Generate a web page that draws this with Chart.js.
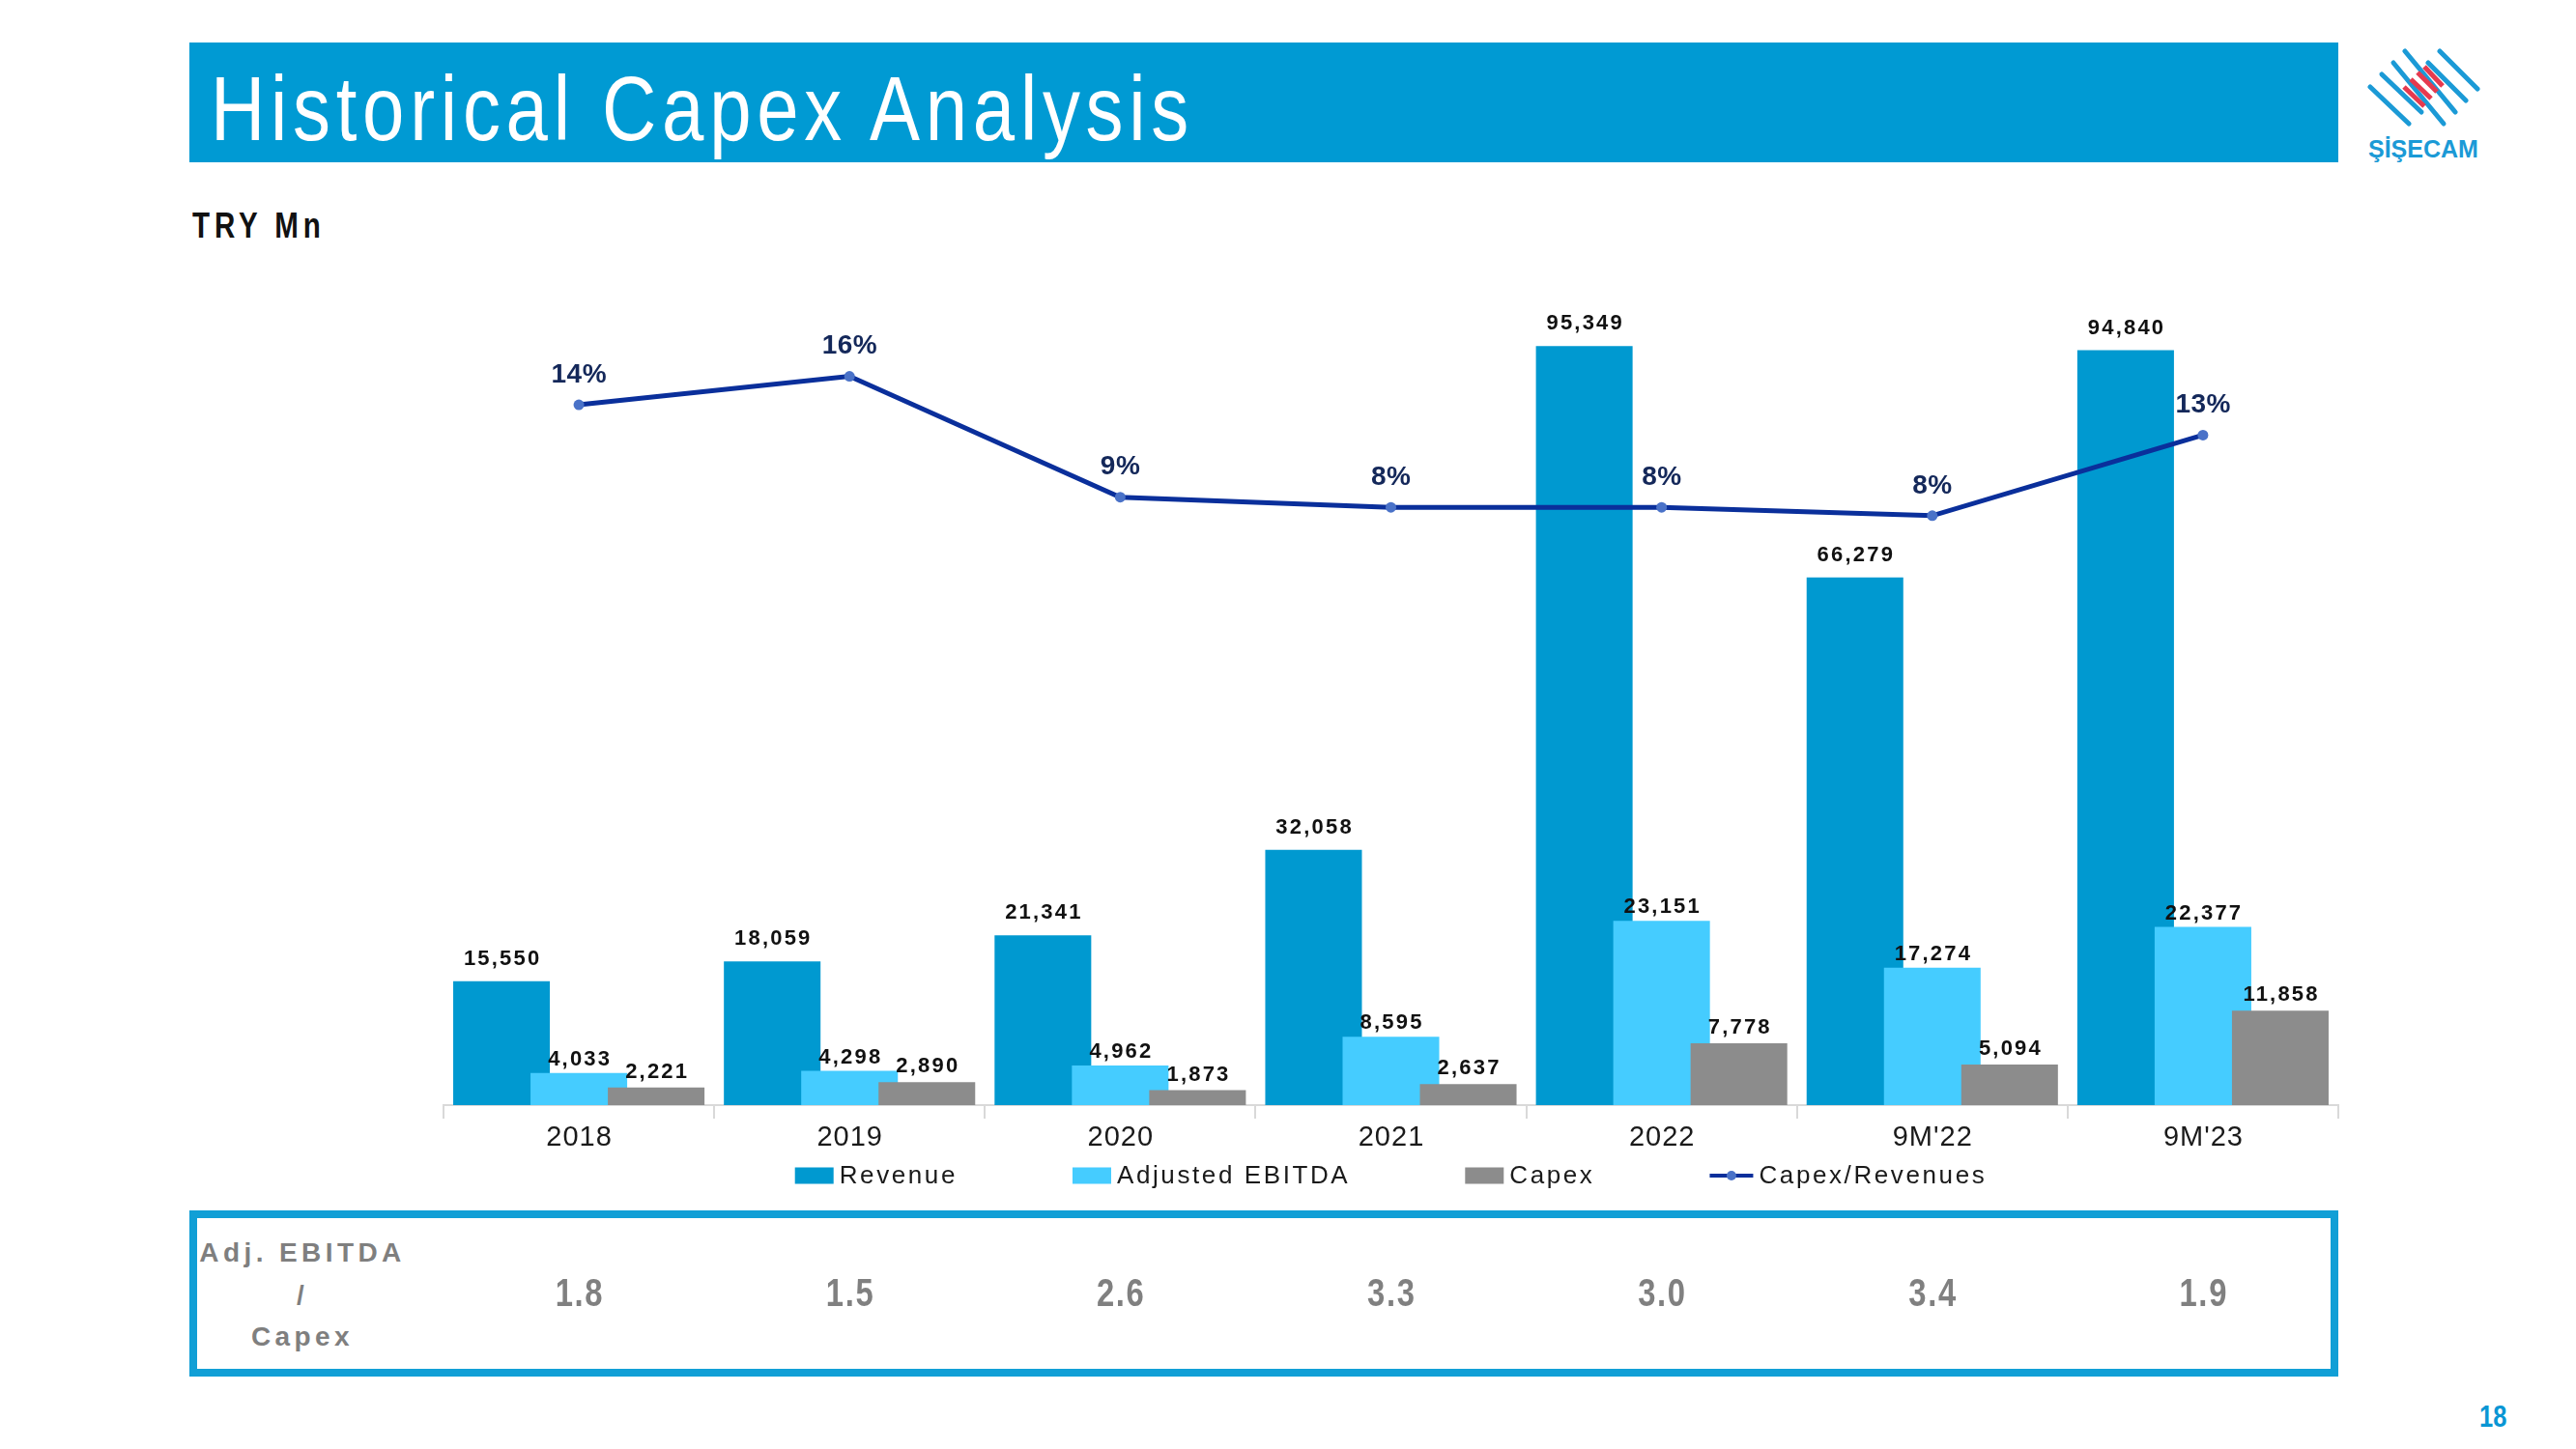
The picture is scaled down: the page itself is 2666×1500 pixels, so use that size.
<!DOCTYPE html>
<html>
<head>
<meta charset="utf-8">
<title>Historical Capex Analysis</title>
<script src="https://cdn.jsdelivr.net/npm/chart.js@4.4.0/dist/chart.umd.min.js"></script>
<style>
  body { margin: 0; background: #fff; }
  #page { position: relative; width: 2666px; height: 1500px; overflow: hidden;
          font-family: "Liberation Sans", Arial, sans-serif; }
  .narrow { display: inline-block; transform: scaleX(0.82); transform-origin: left center; white-space: nowrap; }
  #banner { position: absolute; left: 196px; top: 44px; width: 2224px; height: 124px; background: #009ad3; }
  #banner h1 { position: absolute; left: 22px; top: 21px; margin: 0; font-weight: normal; font-size: 95px;
               line-height: 1; letter-spacing: 7px; color: #fff; }
  #unit { position: absolute; left: 199px; top: 216px; font-size: 36px; font-weight: bold; line-height: 1;
          letter-spacing: 6px; color: #111; }
  #ratioBox { position: absolute; left: 196px; top: 1253px; width: 2224px; height: 172px;
              box-sizing: border-box; border: 8px solid #119fd6; }
  #ratioLabel { position: absolute; left: 163px; top: 1275px; width: 300px; text-align: center; font-size: 28px;
                font-weight: bold; line-height: 43.5px; letter-spacing: 4.4px; color: #7f7f7f; }
  #pageNo { position: absolute; left: 2566px; top: 1451px; font-size: 31px; font-weight: bold; line-height: 1;
            color: #0a96d4; }
  #logo { position: absolute; left: 2450px; top: 50px; }
  #chartWrap { position: absolute; left: 0; top: 0; width: 2666px; height: 1500px; pointer-events: none; }
</style>
</head>
<body>
<div id="page">
  <div id="banner"><h1 class="narrow">Historical Capex Analysis</h1></div>
  <svg id="logo" width="120" height="120" viewBox="0 0 120 120">
    <g stroke="#1b9ad6" stroke-width="5" stroke-linecap="round">
      <line x1="3" y1="40" x2="43" y2="78"/>
      <line x1="15" y1="27" x2="56" y2="66"/>
      <line x1="27" y1="15" x2="79" y2="78"/>
      <line x1="39" y1="3" x2="91" y2="66"/>
      <line x1="63" y1="15" x2="102" y2="54"/>
      <line x1="75" y1="3" x2="114" y2="42"/>
    </g>
    <g stroke="#e63a4f" stroke-width="5">
      <line x1="38" y1="40" x2="59" y2="60"/>
      <line x1="45" y1="32" x2="66" y2="52"/>
      <line x1="52" y1="25" x2="72" y2="45"/>
      <line x1="59" y1="19" x2="78" y2="39"/>
    </g>
    <text x="1" y="113" font-family="Liberation Sans, Arial, sans-serif" font-weight="bold" font-size="25" fill="#1b9ad6">ŞİŞECAM</text>
  </svg>
  <div id="unit" class="narrow">TRY Mn</div>
  <div id="ratioBox"></div>
  <div id="ratioLabel">Adj. EBITDA<br>/<br>Capex</div>
  <div id="pageNo" class="narrow">18</div>
  <div id="chartWrap"><canvas id="capex-chart"></canvas></div>
</div>

<script>
const categories = ['2018', '2019', '2020', '2021', '2022', "9M'22", "9M'23"]
const revenue = [15550, 18059, 21341, 32058, 95349, 66279, 94840]
const adjustedEbitda = [4033, 4298, 4962, 8595, 23151, 17274, 22377]
const capex = [2221, 2890, 1873, 2637, 7778, 5094, 11858]
const capexToRevenues = [14.3, 16.0, 8.8, 8.2, 8.2, 7.7, 12.5]
const ebitdaToCapex = ['1.8', '1.5', '2.6', '3.3', '3.0', '3.4', '1.9']

const FONT = '"Liberation Sans", Arial, sans-serif'

// text with the slide's extra letter spacing, optionally squeezed sideways
function spacedText(ctx, text, x, y, spacing, squeeze = 1) {
    ctx.save()
    ctx.translate(x, y)
    ctx.scale(squeeze, 1)
    ctx.letterSpacing = spacing + 'px'
    const shift = ctx.textAlign === 'center' ? spacing / 2 : 0
    ctx.fillText(text, shift, 0)
    ctx.restore()
}

function spacedWidth(ctx, text, spacing) {
    ctx.save()
    ctx.letterSpacing = spacing + 'px'
    const w = ctx.measureText(text).width
    ctx.restore()
    return w
}

// bars overlap, so paint them left to right (capex on top), line afterwards
const barsInIndexOrder = {
    id: 'barsInIndexOrder',
    beforeDatasetsDraw(chart) {
        chart.data.datasets.forEach((ds, i) => {
            const meta = chart.getDatasetMeta(i)
            if (meta.type === 'bar' && meta.visible) meta.controller.draw()
        })
    },
    beforeDatasetDraw(chart, args) {
        if (args.meta.type === 'bar') return false
    }
}

const categoryLabels = {
    id: 'categoryLabels',
    afterDraw(chart, args, opts) {
        const ctx = chart.ctx
        const xScale = chart.scales.x
        ctx.save()
        ctx.font = `29px ${FONT}`
        ctx.fillStyle = '#1a1a1a'
        ctx.textAlign = 'center'
        ctx.textBaseline = 'middle'
        categories.forEach((c, i) => spacedText(ctx, c, xScale.getPixelForValue(i), opts.y, 1))
        ctx.restore()
    }
}

const valueLabels = {
    id: 'valueLabels',
    afterDatasetsDraw(chart, args, opts) {
        const ctx = chart.ctx
        ctx.save()
        ctx.textAlign = 'center'
        ctx.textBaseline = 'middle'
        chart.data.datasets.forEach((ds, i) => {
            const meta = chart.getDatasetMeta(i)
            meta.data.forEach((el, j) => {
                const v = ds.data[j]
                if (meta.type === 'bar') {
                    ctx.font = `bold 22px ${FONT}`
                    ctx.fillStyle = '#111'
                    spacedText(ctx, v.toLocaleString('en-US'), el.x, el.y - opts.gaps[i], 2.2)
                } else {
                    ctx.font = `bold 28px ${FONT}`
                    ctx.fillStyle = '#14285a'
                    spacedText(ctx, Math.round(v) + '%', el.x, el.y - 31, 0.5)
                }
            })
        })
        ctx.restore()
    }
}

const bottomLegend = {
    id: 'bottomLegend',
    afterDraw(chart, args, opts) {
        const { ctx, chartArea } = chart
        ctx.save()
        ctx.font = `26px ${FONT}`
        ctx.textBaseline = 'middle'
        ctx.textAlign = 'left'
        const items = chart.data.datasets.map(ds => {
            const marker = ds.type === 'line' ? 45 : 40
            return { ds, marker, w: marker + 6 + spacedWidth(ctx, ds.label, 2.6) }
        })
        const total = items.reduce((s, it) => s + it.w, 0) + opts.gap * (items.length - 1)
        let x = (chartArea.left + chartArea.right) / 2 - total / 2
        const y = opts.y
        items.forEach(it => {
            if (it.ds.type === 'line') {
                ctx.strokeStyle = it.ds.borderColor
                ctx.lineWidth = 4
                ctx.beginPath(); ctx.moveTo(x, y); ctx.lineTo(x + it.marker, y); ctx.stroke()
                ctx.fillStyle = it.ds.pointBackgroundColor
                ctx.beginPath(); ctx.arc(x + it.marker / 2, y, 5, 0, Math.PI * 2); ctx.fill()
            } else {
                ctx.fillStyle = it.ds.backgroundColor
                ctx.fillRect(x, y - 8.5, it.marker, 17)
            }
            ctx.fillStyle = '#1a1a1a'
            spacedText(ctx, it.ds.label, x + it.marker + 6, y + 1, 2.6)
            x += it.w + opts.gap
        })
        ctx.restore()
    }
}

const ratioRow = {
    id: 'ratioRow',
    afterDraw(chart, args, opts) {
        const ctx = chart.ctx
        const xScale = chart.scales.x
        ctx.save()
        ctx.font = `bold 40px ${FONT}`
        ctx.fillStyle = '#808080'
        ctx.textAlign = 'center'
        ctx.textBaseline = 'middle'
        ebitdaToCapex.forEach((t, i) => spacedText(ctx, t, xScale.getPixelForValue(i), opts.y, 2, 0.82))
        ctx.restore()
    }
}

const ctx = document.getElementById('capex-chart').getContext('2d')
const myChart = new Chart(ctx, {
    data: {
        labels: categories,
        datasets: [
            { type: 'bar', label: 'Revenue', data: revenue, backgroundColor: '#0099d0', yAxisID: 'y' },
            { type: 'bar', label: 'Adjusted EBITDA', data: adjustedEbitda, backgroundColor: '#45ccff', yAxisID: 'y' },
            { type: 'bar', label: 'Capex', data: capex, backgroundColor: '#8c8c8c', yAxisID: 'y' },
            {
                type: 'line', label: 'Capex/Revenues', data: capexToRevenues, yAxisID: 'y1',
                borderColor: '#0a2f9b', borderWidth: 5, tension: 0,
                pointRadius: 5.5, pointBackgroundColor: '#4a72c8', pointBorderWidth: 0
            }
        ]
    },
    options: {
        responsive: true,
        maintainAspectRatio: false,
        animation: false,
        layout: { padding: { left: 459, right: 246, top: 320, bottom: 342 } },
        datasets: {
            bar: { barPercentage: 1.25, categoryPercentage: 0.857 }
        },
        scales: {
            x: {
                grid: { display: true, drawOnChartArea: false, drawTicks: true, tickLength: 14, color: '#d9d9d9', lineWidth: 2, offset: true },
                border: { display: true, color: '#d9d9d9', width: 2 },
                ticks: { display: false }
            },
            y: { display: false, min: 0, max: 100000 },
            y1: { display: false, min: -27.4, max: 20 }
        },
        plugins: {
            legend: { display: false },
            tooltip: { enabled: false },
            categoryLabels: { y: 1178 },
            valueLabels: { gaps: [23, 14, 16] },
            bottomLegend: { y: 1217, gap: 119 },
            ratioRow: { y: 1341 }
        }
    },
    plugins: [barsInIndexOrder, categoryLabels, valueLabels, bottomLegend, ratioRow]
})
</script>
</body>
</html>
